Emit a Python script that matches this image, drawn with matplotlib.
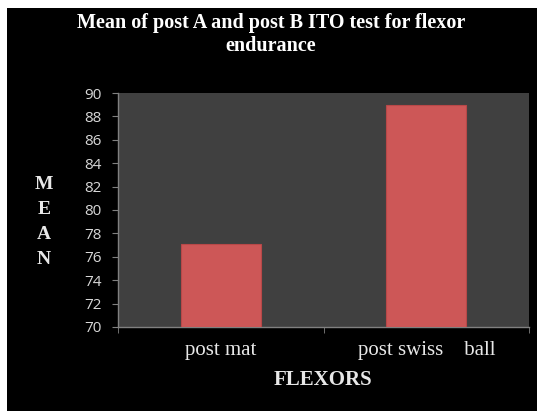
import matplotlib
matplotlib.use("Agg")
import matplotlib.pyplot as plt
from matplotlib.patches import Rectangle

categories = ["post mat", "post swiss    ball"]
means = [77.1, 89.0]
yticks = [70, 72, 74, 76, 78, 80, 82, 84, 86, 88, 90]

W, H = 537, 411
fig = plt.figure(figsize=(W/100, H/100), dpi=100, facecolor="white")
fig.patches.append(Rectangle((7/W, 0), 1, 1 - 8/H, transform=fig.transFigure,
                             facecolor="black", edgecolor="none", zorder=-5))

ax = fig.add_axes([118/W, 1 - 327/H, (529-118)/W, (327-93)/H])
ax.set_zorder(1)
ax.set_facecolor("#404040")
x = list(range(len(categories)))
ax.bar(x, [m - 70 for m in means], bottom=70, width=0.39,
       color="#CD5757", edgecolor="#B84848", linewidth=0.8, zorder=3)
ax.set_xlim(-0.5, 1.5)
ax.set_ylim(70, 90)
ax.set_yticks(yticks)
ax.set_yticklabels([str(v) for v in yticks], fontfamily="Open Sans",
                   fontsize=11, color="#d8d8d8")
ax.set_xticks(x)
ax.set_xticklabels(categories, fontfamily="Liberation Serif", fontsize=15,
                   color="#e8e8e8")
ax.tick_params(axis="x", length=0, pad=10)
ax.set_xticks([-0.5, 0.5, 1.5], minor=True)
ax.tick_params(axis="x", which="minor", length=4, color="#808080")
ax.tick_params(axis="y", length=4, color="#808080", pad=8)
for s in ["top", "right"]:
    ax.spines[s].set_visible(False)
for s in ["left", "bottom"]:
    ax.spines[s].set_color("#808080")
    ax.spines[s].set_linewidth(1)

fig.text(271/W, 1 - 23/H, "Mean of post A and post B ITO test for flexor",
         ha="center", va="center", fontfamily="Liberation Serif",
         fontweight="bold", fontsize=14.5, color="white")
fig.text(271/W, 1 - 46/H, "endurance",
         ha="center", va="center", fontfamily="Liberation Serif",
         fontweight="bold", fontsize=14.5, color="white")
fig.text(323/W, 1 - 380/H, "FLEXORS", ha="center", va="center",
         fontfamily="Liberation Serif", fontweight="bold", fontsize=15,
         color="#e8e8e8")
fig.text(44/W, 1 - 222/H, "M\nE\nA\nN", ha="center", va="center",
         fontfamily="Liberation Serif", fontweight="bold", fontsize=14,
         color="#e8e8e8", linespacing=1.62)

fig.savefig("out.png", dpi=100, facecolor=fig.get_facecolor())
